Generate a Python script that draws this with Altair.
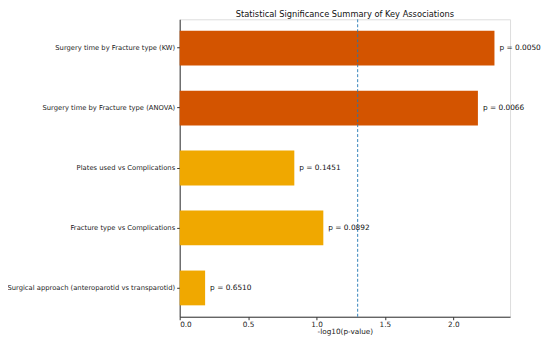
import altair as alt
import pandas as pd

tests = [
    "Surgery time by Fracture type (KW)",
    "Surgery time by Fracture type (ANOVA)",
    "Plates used vs Complications",
    "Fracture type vs Complications",
    "Surgical approach (anteroparotid vs transparotid)",
]
p_values = [0.0050, 0.0066, 0.1451, 0.0892, 0.6510]
neglog = [2.301, 2.180, 0.838, 1.050, 0.186]
significant = ["yes", "yes", "no", "no", "no"]

df = pd.DataFrame({
    "test": tests,
    "p": p_values,
    "neglog": neglog,
    "sig": significant,
})
df["label"] = ["p = %.4f" % v for v in p_values]

y_enc = alt.Y("test:N", sort=tests, title=None,
              scale=alt.Scale(paddingInner=0.42, paddingOuter=0.19),
              axis=alt.Axis(labelFontSize=6.8, labelColor="#222", tickSize=3,
                            tickColor="#333", domainColor="#333", labelPadding=2,
                            labelLimit=300))
x_scale = alt.Scale(domain=[0, 2.415], nice=False, zero=True)

bars = alt.Chart(df).mark_bar().encode(
    y=y_enc,
    x=alt.X("neglog:Q", scale=x_scale, title="-log10(p-value)",
            axis=alt.Axis(values=[0, 0.5, 1.0, 1.5, 2.0], format=".1f",
                          labelFontSize=7.3, titleFontSize=7.3, titleFontWeight="normal",
                          labelColor="#222", titleColor="#222", tickSize=3,
                          tickColor="#333", domainColor="#333", grid=False,
                          titlePadding=0, labelPadding=1)),
    color=alt.Color("sig:N", scale=alt.Scale(domain=["yes", "no"],
                                             range=["#d35400", "#f0a800"]),
                    legend=None),
)

texts = alt.Chart(df).mark_text(align="left", baseline="middle", dx=5,
                                fontSize=7.4, color="#111").encode(
    y=alt.Y("test:N", sort=tests),
    x=alt.X("neglog:Q", scale=x_scale),
    text="label:N",
)

rule = alt.Chart(pd.DataFrame({"thr": [1.30103]})).mark_rule(
    color="#1f77b4", strokeDash=[3, 2], strokeWidth=0.9
).encode(x=alt.X("thr:Q", scale=x_scale))

chart = alt.layer(bars, rule, texts).properties(
    width=331, height=298,
    title=alt.TitleParams("Statistical Significance Summary of Key Associations",
                          fontSize=8.3, fontWeight="normal", color="#111",
                          anchor="middle", offset=1),
    autosize=alt.AutoSizeParams(type="none"),
    padding={"left": 172, "top": 11, "right": 32, "bottom": 21},
).configure_view(stroke="#333", strokeWidth=0.8).configure(font="DejaVu Sans")

chart.save("out.html", embed_options={"renderer": "svg", "actions": False})
